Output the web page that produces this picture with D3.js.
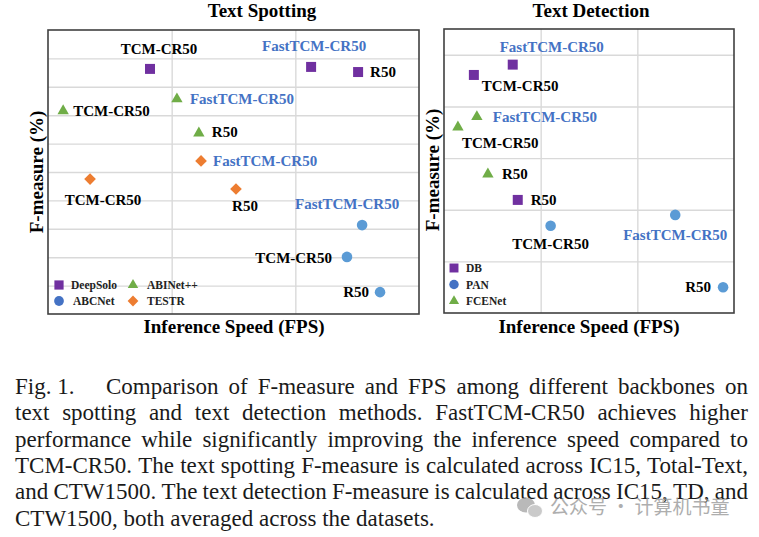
<!DOCTYPE html>
<html>
<head>
<meta charset="utf-8">
<script src="https://cdn.jsdelivr.net/npm/d3@7"></script>
<style>
  html, body { margin: 0; padding: 0; background: #fff; }
  svg { display: block; }
  svg text { font-family: "Liberation Serif", "Times New Roman", Tinos, "Nimbus Roman", "DejaVu Serif", serif; }
  svg text.cjk { font-family: "Noto Sans CJK SC", sans-serif; }
</style>
</head>
<body>
<svg id="chart" width="759" height="537"></svg>
<script>
// ---------------- DATA ----------------
// Text Spotting panel
const spotMethods = ["DeepSolo", "ABINet++", "ABCNet", "TESTR"];
const spotPointMethod = ["DeepSolo","DeepSolo","DeepSolo","ABINet++","ABINet++","ABINet++","TESTR","TESTR","TESTR","ABCNet","ABCNet","ABCNet"];
const spotPointLabel  = ["TCM-CR50","FastTCM-CR50","R50","TCM-CR50","FastTCM-CR50","R50","TCM-CR50","FastTCM-CR50","R50","FastTCM-CR50","TCM-CR50","R50"];
const spotFPS         = [3.30, 8.51, 10.03, 0.49, 4.17, 4.88, 1.36, 4.95, 6.08, 10.16, 9.67, 10.74];
const spotFmeasure    = [68.63, 68.70, 68.52, 67.15, 67.57, 66.37, 64.75, 65.39, 64.40, 63.13, 62.01, 60.77];
const spotXTicks = [4, 8];
const spotYTicks = [61, 62, 63, 64, 65, 66, 67, 68, 69];

// Text Detection panel
const detMethods = ["DB", "PAN", "FCENet"];
const detPointMethod = ["DB","DB","DB","FCENet","FCENet","FCENet","PAN","PAN","PAN"];
const detPointLabel  = ["FastTCM-CR50","TCM-CR50","R50","FastTCM-CR50","TCM-CR50","R50","TCM-CR50","FastTCM-CR50","R50"];
const detFPS         = [7.11, 3.09, 7.63, 3.40, 1.44, 4.54, 11.03, 23.92, 28.87];
const detFmeasure    = [84.81, 84.61, 82.19, 83.80, 83.60, 82.69, 81.69, 81.90, 80.50];
const detXTicks = [10, 20];
const detYTicks = [81, 82, 83, 84, 85];

// Caption
const captionLines = [
  "text spotting and text detection methods. FastTCM-CR50 achieves higher",
  "performance while significantly improving the inference speed compared to",
  "TCM-CR50. The text spotting F-measure is calculated across IC15, Total-Text,",
  "and CTW1500. The text detection F-measure is calculated across IC15, TD, and"
];
const captionFirstHead = "Fig. 1.";
const captionFirstRest = "Comparison of F-measure and FPS among different backbones on";
const captionLast = "CTW1500, both averaged across the datasets.";
const watermarkText = "公众号 · 计算机书童";

// ---------------- STYLES / LAYOUT ----------------
const colors = { "DeepSolo": "#7030a0", "DB": "#7030a0", "ABINet++": "#70ad47", "FCENet": "#70ad47",
                 "TESTR": "#ed7d31", "ABCNet": "#5b9bd5", "PAN": "#5b9bd5" };
const legendColors = { ...colors, "ABCNet": "#4472c4", "PAN": "#4472c4" };
const shapes = { "DeepSolo": "square", "DB": "square", "ABINet++": "triangle", "FCENet": "triangle",
                 "TESTR": "diamond", "ABCNet": "circle", "PAN": "circle" };
const blueText = "#4472c4";

// label offsets (px) relative to each point: [dx, dy, anchor]
const spotLabelPos = [
  [9, -15, "middle"], [3, -16, "middle"], [12, 5, "start"],
  [10, 5, "start"], [13, 5, "start"], [13, 4, "start"],
  [13, 26, "middle"], [12, 5, "start"], [9, 22, "middle"],
  [-15, -16, "middle"], [-15, 6, "end"], [-11, 5, "end"]
];
const detLabelPos = [
  [39, -13, "middle"], [8, 16, "start"], [13, 5, "start"],
  [16, 5, "start"], [4, 21, "start"], [14, 5, "start"],
  [0, 23, "middle"], [0, 25, "middle"], [-12, 5, "end"]
];

const svg = d3.select("#chart");
svg.append("rect").attr("width", 759).attr("height", 537).attr("fill", "#fff");

function symbolPath(shape, scale) {
  const s = scale || 1;
  if (shape === "square") return d3.symbol(d3.symbolSquare, 100 * s)();
  if (shape === "circle") return d3.symbol(d3.symbolCircle, 88 * s)();
  if (shape === "triangle") return d3.symbol(d3.symbolTriangle, 56 * s)();
  if (shape === "diamond") return d3.symbol(d3.symbolSquare, 68 * s)();
  return null;
}

function drawMarker(g, shape, color, x, y, scale) {
  g.append("path")
    .attr("d", symbolPath(shape, scale))
    .attr("fill", color)
    .attr("transform", `translate(${x},${y})` + (shape === "diamond" ? " rotate(45)" : ""));
}

function drawPanel(opts) {
  const { left, right, top, bottom, xDomain, yDomain, xTicks, yTicks,
          methods, fps, fm, labels, labelPos, title, titleX, xTitleX, yTitleX, yTitleY } = opts;
  const x = d3.scaleLinear().domain(xDomain).range([left, right]);
  const y = d3.scaleLinear().domain(yDomain).range([bottom, top]);
  const g = svg.append("g");

  const gx = g.append("g").attr("transform", `translate(0,${bottom})`)
    .call(d3.axisBottom(x).tickValues(xTicks).tickSize(-(bottom - top)).tickFormat(""));
  const gy = g.append("g").attr("transform", `translate(${left},0)`)
    .call(d3.axisLeft(y).tickValues(yTicks).tickSize(-(right - left)).tickFormat(""));
  [gx, gy].forEach(a => {
    a.select(".domain").remove();
    a.selectAll("line").attr("stroke", "#d9d9d9").attr("stroke-width", 1.4);
  });

  g.append("rect").attr("x", left).attr("y", top)
    .attr("width", right - left).attr("height", bottom - top)
    .attr("fill", "none").attr("stroke", "#404040").attr("stroke-width", 1.6);

  fps.forEach((v, i) => {
    const m = methods[i];
    const px = x(v), py = y(fm[i]);
    drawMarker(g, shapes[m], colors[m], px, py, 1);
    const lp = labelPos[i];
    g.append("text")
      .attr("x", px + lp[0]).attr("y", py + lp[1])
      .attr("text-anchor", lp[2])
      .attr("font-weight", "bold").attr("font-size", 15)
      .attr("fill", labels[i].startsWith("Fast") ? blueText : "#000")
      .text(labels[i]);
  });

  g.append("text").attr("x", titleX).attr("y", 17).attr("text-anchor", "middle")
    .attr("font-weight", "bold").attr("font-size", 19).text(title);
  g.append("text").attr("x", xTitleX).attr("y", 333).attr("text-anchor", "middle")
    .attr("font-weight", "bold").attr("font-size", 19)
    .text("Inference Speed (FPS)");
  g.append("text").attr("transform", `translate(${yTitleX},${yTitleY}) rotate(-90)`)
    .attr("text-anchor", "middle")
    .attr("font-weight", "bold").attr("font-size", 19)
    .text("F-measure (%)");
  return g;
}

const gSpot = drawPanel({
  left: 48, right: 419, top: 30, bottom: 314,
  xDomain: [0, 12], yDomain: [60, 70], xTicks: spotXTicks, yTicks: spotYTicks,
  methods: spotPointMethod, fps: spotFPS, fm: spotFmeasure, labels: spotPointLabel, labelPos: spotLabelPos,
  title: "Text Spotting", titleX: 262, xTitleX: 234, yTitleX: 43, yTitleY: 172
});
const gDet = drawPanel({
  left: 444, right: 734, top: 29, bottom: 313,
  xDomain: [0, 30], yDomain: [80, 85.5], xTicks: detXTicks, yTicks: detYTicks,
  methods: detPointMethod, fps: detFPS, fm: detFmeasure, labels: detPointLabel, labelPos: detLabelPos,
  title: "Text Detection", titleX: 591, xTitleX: 589, yTitleX: 439, yTitleY: 170
});

// legends
const spotLegendPos = [[59, 285], [133, 285], [59, 301], [133, 301]];
const spotLegendTextX = [71, 147, 73, 147];
spotMethods.forEach((m, i) => {
  const [lx, ly] = spotLegendPos[i];
  drawMarker(gSpot, shapes[m], legendColors[m], lx, ly, 0.85);
  gSpot.append("text").attr("x", spotLegendTextX[i]).attr("y", ly + 4)
    .attr("font-weight", "bold").attr("font-size", 11.5)
    .attr("fill", "#222").text(m);
});
detMethods.forEach((m, i) => {
  const ly = 268 + i * 16.5;
  drawMarker(gDet, shapes[m], legendColors[m], 454, ly, 0.8);
  gDet.append("text").attr("x", 466).attr("y", ly + 4)
    .attr("font-weight", "bold").attr("font-size", 11.5)
    .attr("fill", "#222").text(m);
});

// ---------------- CAPTION ----------------
const cap = svg.append("g").attr("font-size", 23).attr("fill", "#1a1a1a");
function justify(line, x0, x1, yb) {
  const words = line.split(" ");
  const nodes = words.map(w => cap.append("text").attr("y", yb).text(w));
  const widths = nodes.map(n => n.node().getComputedTextLength());
  const total = d3.sum(widths);
  const gap = (x1 - x0 - total) / (words.length - 1);
  if (gap < 2.5) {
    nodes.forEach(n => n.remove());
    cap.append("text").attr("x", x0).attr("y", yb)
      .attr("textLength", x1 - x0).attr("lengthAdjust", "spacingAndGlyphs").text(line);
    return;
  }
  let cx = x0;
  nodes.forEach((n, i) => { n.attr("x", cx); cx += widths[i] + gap; });
}
const capBase = [394, 420.3, 446.6, 472.9, 499.2, 525.5];
cap.append("text").attr("x", 15).attr("y", capBase[0]).text(captionFirstHead);
justify(captionFirstRest, 106, 748, capBase[0]);
captionLines.forEach((l, i) => justify(l, 15, 748, capBase[i + 1]));
cap.append("text").attr("x", 15).attr("y", capBase[5]).text(captionLast);

// watermark
const wm = svg.append("g").attr("opacity", 0.8);
wm.append("ellipse").attr("cx", 526).attr("cy", 505).attr("rx", 9).attr("ry", 7.5).attr("fill", "#a8a8a8");
wm.append("ellipse").attr("cx", 535).attr("cy", 511).attr("rx", 7.5).attr("ry", 6.5).attr("fill", "#bdbdbd")
  .attr("stroke", "#fff").attr("stroke-width", 1);
wm.append("text").attr("class", "cjk").attr("x", 550).attr("y", 514)
  .attr("font-size", 19).attr("fill", "#9a9a9a").text(watermarkText);
</script>
</body>
</html>
